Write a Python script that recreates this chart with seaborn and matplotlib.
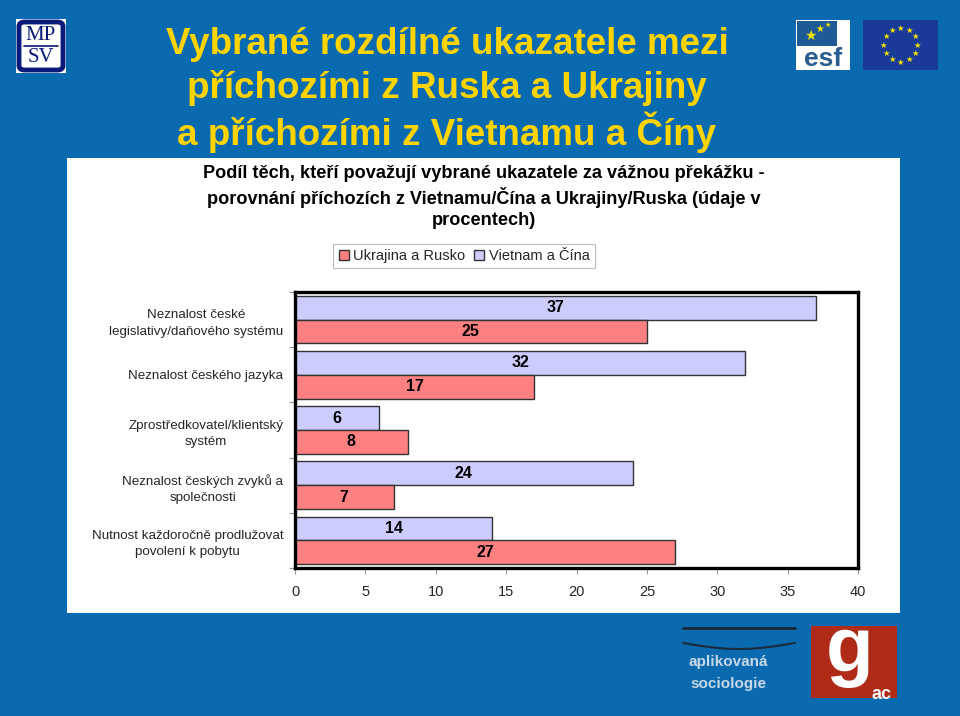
import matplotlib
matplotlib.use("Agg")
import matplotlib.pyplot as plt
import seaborn as sns
import pandas as pd
import numpy as np
from matplotlib.patches import Rectangle, FancyBboxPatch, Patch

categories = [
    "Neznalost české\nlegislativy/daňového systému",
    "Neznalost českého jazyka",
    "Zprostředkovatel/klientský\nsystém",
    "Neznalost českých zvyků a\nspolečnosti",
    "Nutnost každoročně prodlužovat\npovolení k pobytu",
]
vietnam_cina = [37, 32, 6, 24, 14]
ukrajina_rusko = [25, 17, 8, 7, 27]
series_names = ["Vietnam a Čína", "Ukrajina a Rusko"]
x_ticks = [0, 5, 10, 15, 20, 25, 30, 35, 40]

df = pd.DataFrame({
    "kategorie": categories * 2,
    "skupina": [series_names[0]] * 5 + [series_names[1]] * 5,
    "hodnota": vietnam_cina + ukrajina_rusko,
})

sns.set_style("white")
plt.rcParams['font.family'] = ['Liberation Sans', 'DejaVu Sans']

W, H = 960, 716
fig = plt.figure(figsize=(9.6, 7.16), dpi=100)
fig.patch.set_facecolor("#0A6AB0")

def fx(x): return x / W
def fy(y): return 1 - y / H

# white panel
fig.patches.append(Rectangle((fx(67), fy(613)), fx(900 - 67), (613 - 158) / H,
                             transform=fig.transFigure, facecolor="white", edgecolor="none", zorder=-1))

# main title
title_lines = ["Vybrané rozdílné ukazatele mezi", "příchozími z Ruska a Ukrajiny", "a příchozími z Vietnamu a Číny"]
for i, t in enumerate(title_lines):
    fig.text(fx(447), fy(44 + 44.3 * i), t, ha="center", va="center", fontsize=26.5,
             fontweight="bold", color="#FFD400")

# chart title
sub_lines = ["Podíl těch, kteří považují vybrané ukazatele za vážnou překážku -",
             "porovnání příchozích z Vietnamu/Čína a Ukrajiny/Ruska (údaje v",
             "procentech)"]
for i, t in enumerate(sub_lines):
    fig.text(fx(484), fy(174 + 23.3 * i), t, ha="center", va="center", fontsize=13.1,
             fontweight="bold", color="black")

# axes
ax = fig.add_axes([fx(295), fy(568), fx(858 - 295), (568 - 292) / H])
colors = {series_names[0]: "#CCCCFF", series_names[1]: "#FF8080"}
sns.barplot(data=df, y="kategorie", x="hodnota", hue="skupina", hue_order=series_names,
            order=categories, palette=colors, orient="h", width=0.86, dodge=True,
            edgecolor="#333333", linewidth=1.0, legend=False, ax=ax, saturation=1)

for cont in ax.containers:
    for bar in cont:
        w = bar.get_width()
        ax.text(w / 2, bar.get_y() + bar.get_height() / 2, f"{int(round(w))}",
                ha="center", va="center", fontsize=11.5, fontweight="bold", color="black")

ax.set_xlim(0, 40)
ax.set_xticks(x_ticks)
ax.set_xticklabels([str(v) for v in x_ticks], fontsize=10.5)
ax.set_ylabel("")
ax.set_xlabel("")
ax.set_yticks(range(len(categories)))
ax.set_yticklabels(categories, fontsize=9.6, linespacing=1.5, multialignment="center")
ax.tick_params(axis="x", length=4, color="#999999", pad=8, direction="out", bottom=True, width=0.8)
ax.set_yticks(np.arange(-0.5, 5.5, 1.0), minor=True)
ax.tick_params(axis="y", which="major", left=False, pad=5)
ax.tick_params(axis="y", which="minor", length=4, color="#999999", left=True, width=0.8)
ax.set_ylim(4.5, -0.5)
for s in ["top", "right", "left", "bottom"]:
    ax.spines[s].set_linewidth(2.4)
    ax.spines[s].set_color("black")
ax.set_facecolor("white")

# legend
handles = [Patch(facecolor=colors[series_names[1]], edgecolor="#333333", label=series_names[1]),
           Patch(facecolor=colors[series_names[0]], edgecolor="#333333", label=series_names[0])]
leg = fig.legend(handles=handles, loc="center", bbox_to_anchor=(fx(464), fy(256)), ncol=2,
                 frameon=True, fontsize=10.5, handlelength=0.7, handleheight=0.7,
                 handletextpad=0.3, columnspacing=0.6, borderpad=0.35, fancybox=False)
leg.get_frame().set_edgecolor("#AAAAAA")
leg.get_frame().set_linewidth(0.8)

# --- logos ---
# MPSV
fig.patches.append(Rectangle((fx(16), fy(73)), fx(50), 54 / H, transform=fig.transFigure,
                             facecolor="white", edgecolor="none", zorder=1))
fig.patches.append(FancyBboxPatch((fx(19), fy(70)), fx(44), 48 / H, transform=fig.transFigure,
                                  boxstyle="round,pad=0,rounding_size=0.006",
                                  facecolor="white", edgecolor="#0A1A7A", linewidth=3.5, zorder=2))
fig.text(fx(41), fy(35), "MP", ha="center", va="center", fontsize=15, family="Liberation Serif",
         color="#0A1A7A", zorder=3)
fig.text(fx(41), fy(57), "SV", ha="center", va="center", fontsize=15, family="Liberation Serif",
         color="#0A1A7A", zorder=3)
fig.lines.append(plt.Line2D([fx(24), fx(58)], [fy(46), fy(46)], transform=fig.transFigure,
                            color="#0A1A7A", linewidth=1.2, zorder=3))

# ESF
fig.patches.append(Rectangle((fx(796), fy(70)), fx(54), 50 / H, transform=fig.transFigure,
                             facecolor="white", edgecolor="none", zorder=1))
fig.patches.append(Rectangle((fx(797), fy(46)), fx(40), 25 / H, transform=fig.transFigure,
                             facecolor="#1E5A96", edgecolor="none", zorder=2))
fig.text(fx(823), fy(59), "esf", ha="center", va="center", fontsize=19, fontweight="bold",
         color="#2A5D8F", zorder=3)
for (sx, sy, ss) in [(810, 36, 10), (820, 29, 7), (828, 25, 5)]:
    fig.text(fx(sx), fy(sy), "★", ha="center", va="center", fontsize=ss, color="#F5E600",
             family="DejaVu Sans", zorder=4)

# EU flag
fig.patches.append(Rectangle((fx(863), fy(70)), fx(75), 50 / H, transform=fig.transFigure,
                             facecolor="#1A3A9A", edgecolor="none", zorder=1))
cx, cy, r = 900.5, 45, 17
for k in range(12):
    a = 2 * np.pi * k / 12
    fig.text(fx(cx + r * np.cos(a)), fy(cy + r * np.sin(a)), "★", ha="center", va="center",
             fontsize=6, color="#F5E600", family="DejaVu Sans", zorder=2)

# bottom logos
fig.lines.append(plt.Line2D([fx(683), fx(795)], [fy(628), fy(628)], transform=fig.transFigure,
                            color="#1A2A3A", linewidth=2, zorder=1))
xs = np.linspace(683, 795, 50)
fig.lines.append(plt.Line2D([fx(v) for v in xs],
                            [fy(643 + 6 * np.sin((v - 683) / 112 * np.pi)) for v in xs],
                            transform=fig.transFigure, color="#1A2A3A", linewidth=1.5, zorder=1))
fig.text(fx(728), fy(662), "aplikovaná", ha="center", va="center", fontsize=11, fontweight="bold",
         color="#C8D8E8")
fig.text(fx(728), fy(684), "sociologie", ha="center", va="center", fontsize=11, fontweight="bold",
         color="#C8D8E8")
fig.patches.append(Rectangle((fx(811), fy(698)), fx(86), 72 / H, transform=fig.transFigure,
                             facecolor="#B02A18", edgecolor="none", zorder=1))
fig.text(fx(850), fy(652), "g", ha="center", va="center", fontsize=56, fontweight="bold",
         color="white", zorder=2)
fig.text(fx(881), fy(703), "ac", ha="center", va="bottom", fontsize=13, fontweight="bold",
         color="white", zorder=2)

fig.savefig("out.png", dpi=100, facecolor=fig.get_facecolor())
